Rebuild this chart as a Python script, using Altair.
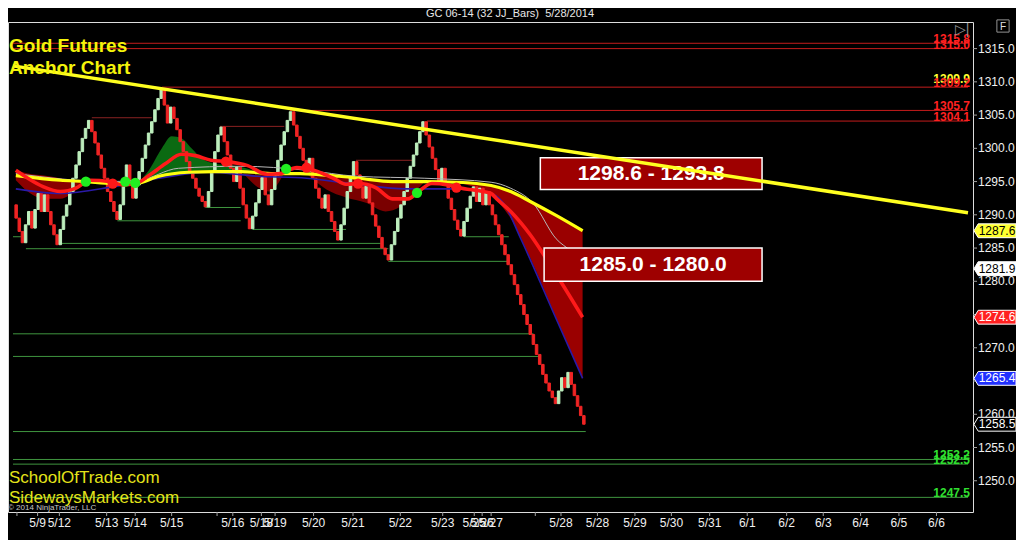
import altair as alt
import pandas as pd

# ---------------- data ----------------
# bar closes, one per bar (bar index = slot 1..181)
closes = [1289.5, 1287.5, 1285.8, 1288.5, 1290.5, 1288.0, 1290.8, 1293.2, 1290.5, 1293.0,
          1290.5, 1288.5, 1287.0, 1285.5, 1287.8, 1289.8, 1291.5, 1293.5, 1295.5, 1297.5,
          1299.5, 1301.5, 1303.0, 1304.2, 1302.5, 1300.8, 1299.0, 1297.0, 1295.5, 1293.5,
          1292.0, 1290.5, 1289.3, 1291.5, 1294.5, 1297.5, 1295.0, 1292.5, 1294.5, 1296.5,
          1298.5, 1300.5, 1302.3, 1304.0, 1305.8, 1307.5, 1308.8, 1306.5, 1303.8, 1306.2,
          1304.5, 1302.8, 1301.0, 1299.5, 1298.0, 1296.5, 1295.5, 1294.0, 1292.8, 1292.0,
          1291.2, 1293.5, 1296.5, 1299.5, 1302.0, 1303.2, 1301.0, 1299.0, 1297.0, 1295.0,
          1297.2, 1294.0, 1291.5, 1289.5, 1287.9, 1289.8, 1291.8, 1293.8, 1295.6, 1293.0,
          1291.5, 1293.8, 1296.0, 1298.2, 1300.5, 1302.5, 1304.2, 1305.5, 1303.5, 1301.8,
          1300.0, 1298.2, 1296.5, 1298.5, 1295.5, 1294.0, 1292.5, 1291.0, 1293.0, 1290.5,
          1289.0, 1287.5, 1286.2, 1288.5, 1291.0, 1293.5, 1295.8, 1298.0, 1296.0, 1294.2,
          1292.5, 1294.5, 1291.8, 1290.0, 1288.3, 1286.6, 1285.0, 1284.0, 1283.2, 1285.5,
          1287.5, 1289.5, 1291.5, 1293.5, 1295.5, 1297.3, 1299.0, 1300.8, 1302.5, 1304.0,
          1302.0, 1300.2, 1298.5, 1296.8, 1295.0, 1297.0, 1294.5, 1292.5, 1290.8, 1289.2,
          1287.8, 1286.8, 1289.0, 1291.0, 1292.8, 1294.2, 1292.0, 1294.0, 1291.5, 1293.5,
          1291.5, 1290.0, 1288.5, 1287.0, 1285.5, 1284.0, 1282.5, 1281.0, 1279.5, 1278.0,
          1276.5, 1275.0, 1273.5, 1272.0, 1270.5, 1269.0, 1267.5, 1266.0, 1264.7, 1263.5,
          1262.5, 1261.6, 1263.5, 1265.5, 1264.0, 1266.3, 1264.5, 1262.8, 1261.2, 1259.8,
          1258.5]
first_open = 1291.5

# moving averages (slot, price)
yel_x = [0.9, 15, 22.8, 31.6, 39, 46.25, 55.6, 64, 72.2, 82.8, 91, 103.4, 109.7, 120.3,
         130.6, 141, 151.6, 157.8, 164, 172.2, 180.6]
yel_y = [1295.9, 1295.2, 1295.0, 1294.7, 1294.7, 1295.8, 1296.4, 1296.5, 1296.5, 1296.2,
         1296.2, 1295.8, 1295.5, 1295.0, 1295.0, 1294.9, 1294.4, 1293.5, 1292.0, 1289.9, 1287.6]

red_x = [0.9, 4.7, 9.7, 15, 20.3, 24.4, 30.6, 34.7, 39, 43.1, 48.4, 53.4, 57.8, 62.8, 68.1,
         74.4, 80.6, 84.7, 90, 95.3, 101.6, 105.6, 109.7, 115, 120.3, 125.3, 128.1, 132.8,
         137.8, 141, 151.6, 153.4, 157.8, 164, 170.3, 180.6]
red_y = [1296.7, 1295.5, 1294.2, 1293.5, 1294.1, 1295.2, 1295.0, 1294.5, 1294.7, 1295.9,
         1297.7, 1299.1, 1298.9, 1298.2, 1298.0, 1297.4, 1296.1, 1296.2, 1297.1, 1296.7,
         1295.5, 1294.6, 1294.7, 1294.1, 1292.4, 1292.4, 1293.3, 1294.7, 1294.5, 1294.1,
         1293.2, 1292.4, 1290.5, 1287.0, 1282.5, 1274.6]

blue_x = [0.9, 15, 31.6, 46.25, 61.9, 77.5, 93.1, 108.75, 124.4, 140, 151.6, 155.6, 161,
          171.9, 180.6]
blue_y = [1293.9, 1293.2, 1294.2, 1295.5, 1296.4, 1295.8, 1295.5, 1294.6, 1293.9, 1293.9,
          1293.2, 1291.7, 1286.4, 1274.7, 1265.4]

grey_x = [0.9, 30.6, 40, 52.5, 72.2, 93.1, 108.75, 130.6, 151.6, 157.8, 165, 172.2, 176.9, 181.6]
grey_y = [1296.2, 1295.0, 1295.2, 1297.0, 1297.3, 1296.7, 1295.8, 1295.5, 1294.9, 1294.0,
          1291.7, 1286.4, 1284.5, 1281.9]

# ribbon fills: segment id, colour, slot, upper, lower
rib_seg = [1] * 7 + [2] * 10 + [3] * 4 + [4] * 8 + [5] * 6
rib_col = (["#8a0000"] * 7 + ["#0b6a12"] * 10 + ["#7a0000"] * 4 + ["#7a0000"] * 8
           + ["#9a0000"] * 6)
rib_x = [0.9, 4.7, 9.7, 15, 18.1, 21.25, 23.1,
         39.4, 43.1, 47.2, 50.3, 53.4, 56.6, 59.7, 65, 71.25, 75.9,
         73.1, 77.5, 81.25, 85.9,
         93.1, 99.4, 105.6, 111.9, 118.1, 122.8, 127.5, 130.6,
         140, 151.6, 157.8, 164, 172.2, 180.6]
rib_top = [1296.7, 1296.2, 1295.9, 1295.5, 1295.2, 1295.0, 1294.8,
           1294.7, 1296.7, 1300.0, 1301.8, 1301.5, 1300.0, 1298.5, 1297.6, 1297.3, 1296.7,
           1296.2, 1296.0, 1296.0, 1296.2,
           1296.2, 1296.0, 1295.6, 1295.3, 1295.0, 1295.0, 1295.0, 1295.0,
           1294.9, 1294.4, 1293.5, 1292.0, 1289.9, 1287.6]
rib_bot = [1295.2, 1293.5, 1292.4, 1292.4, 1293.0, 1294.2, 1294.8,
           1294.7, 1295.2, 1295.6, 1295.9, 1296.2, 1296.5, 1296.7, 1296.7, 1296.7, 1296.7,
           1296.2, 1294.2, 1293.5, 1296.2,
           1296.2, 1293.8, 1292.6, 1291.8, 1290.5, 1291.2, 1293.5, 1295.0,
           1294.9, 1292.8, 1289.5, 1283.5, 1274.5, 1265.4]

# signal dots
gdot_x = [23.1, 35.6, 38.75, 86.6, 128.1]
gdot_y = [1295.0, 1295.0, 1294.8, 1296.9, 1293.3]
rdot_x = [31.6, 67.5, 93.1, 109.4, 140.6]
rdot_y = [1294.7, 1298.0, 1297.1, 1294.7, 1294.1]

# horizontal levels
lev_price = [1315.8, 1315.0, 1309.2, 1305.7, 1304.1, 1304.6, 1303.3, 1298.2,
             1289.1, 1291.1, 1287.8, 1285.7, 1284.9, 1286.7, 1286.7, 1283.0,
             1272.1, 1268.7, 1257.4, 1253.2, 1252.5, 1247.5]
lev_start = [0, 0, 47.2, 87.8, 131.25, 25, 65.6, 108.75,
             33.1, 61, 76, 14, 4.1, 0, 143, 119, 0, 0, 0, 0, 0, 0]
lev_end = [302.8, 302.8, 302.8, 302.8, 302.8, 44, 86, 126.6,
           72.2, 72.2, 105.6, 116.6, 119, 2.5, 157.2, 157.2, 165, 167.2, 181.6,
           302.8, 302.8, 302.8]
lev_kind = ["r"] * 5 + ["d"] * 3 + ["g"] * 14

# level labels at right
lab_price = [1315.8, 1315.0, 1309.9, 1309.2, 1305.7, 1304.1, 1253.2, 1252.5, 1247.5]
lab_col = ["#ff2020", "#ff2020", "#ffff30", "#ff2020", "#ff2020", "#ff2020",
           "#30e030", "#30e030", "#30e030"]

# trend line
trend_x = [0, 302.8]
trend_y = [1312.4, 1290.3]

# target boxes
box_x1 = [167.2, 168.4]
box_x2 = [237.5, 237.5]
box_top = [1298.6, 1285.0]
box_bot = [1293.8, 1280.0]
box_lab = ["1298.6 - 1293.8", "1285.0 - 1280.0"]

# price tags on the axis
tag_price = [1287.6, 1281.9, 1274.6, 1265.4, 1258.5]
tag_fill = ["#ffff30", "#ffffff", "#ff2020", "#2030ff", "#000000"]
tag_text = ["#000000", "#000000", "#ffffff", "#ffffff", "#ffffff"]

# x-axis ticks
tick_vals = [1.25, 7.8, 14.7, 29.7, 38.75, 50.3, 64.7, 69.7, 78.75, 83.1, 95.3, 107.8,
             122.8, 136.25, 146.25, 148.75, 151.6, 165.6, 173.75, 185.3, 197.2, 208.75,
             220.9, 232.8, 245.3, 256.9, 268.75, 280.9, 292.8]
tick_labels = ["", "5/9", "5/12", "5/13", "5/14", "5/15", "", "5/16", "5/18", "5/19",
               "5/20", "5/21", "5/22", "5/23", "5/25", "5/26", "5/27", "", "5/28", "5/28",
               "5/29", "5/30", "5/31", "6/1", "6/2", "6/3", "6/4", "6/5", "6/6"]
y_ticks = [1250, 1255, 1260, 1265, 1270, 1275, 1280, 1285, 1290, 1295, 1300, 1305, 1310, 1315]

# ---------------- chart ----------------
W, H = 965, 490
FONT = "Liberation Sans"
xs = alt.Scale(domain=[0, 302.8], nice=False, zero=False)
ys = alt.Scale(domain=[1245.3, 1319.0], nice=False, zero=False)


def X(field):
    return alt.X(field, scale=xs, axis=None)


def Y(field):
    return alt.Y(field, scale=ys, axis=None)


opens = [first_open] + closes[:-1]
bars_df = pd.DataFrame({
    "slot": list(range(1, len(closes) + 1)),
    "open": opens,
    "close": closes,
})
bars_df["col"] = ["#bdeebd" if c > o else "#f02424" for o, c in zip(opens, closes)]

lev_colors = {"r": "#c41c1c", "d": "#8a2222", "g": "#3f953f"}
lev_df = pd.DataFrame({"x1": lev_start, "x2": lev_end, "p": lev_price,
                       "col": [lev_colors[k] for k in lev_kind]})

levels = alt.Chart(lev_df).mark_rule(strokeWidth=1).encode(
    x=X("x1:Q"), x2="x2:Q", y=Y("p:Q"),
    color=alt.Color("col:N", scale=None),
)

# hand-made axes (labels and ticks follow the scales)
xt_df = pd.DataFrame({"v": tick_vals, "t": tick_labels})
x_ticks = alt.Chart(xt_df).mark_rule(color="#a0a0a0", strokeWidth=1).encode(
    x=X("v:Q"), y=alt.value(H), y2=alt.value(H + 4))
x_labels = alt.Chart(xt_df).mark_text(font=FONT, fontSize=12, color="#f0f0f0",
                                      baseline="middle", align="center").encode(
    x=X("v:Q"), y=alt.value(H + 11), text="t:N")

yt_df = pd.DataFrame({"p": y_ticks, "t": [f"{v:.1f}" for v in y_ticks]})
y_tick_marks = alt.Chart(yt_df).mark_rule(color="#a0a0a0", strokeWidth=1).encode(
    y=Y("p:Q"), x=alt.value(W), x2=alt.value(W + 4))
y_labels = alt.Chart(yt_df).mark_text(font=FONT, fontSize=12, color="#f0f0f0",
                                      baseline="middle", align="left").encode(
    y=Y("p:Q"), x=alt.value(W + 5), text="t:N")

rib_df = pd.DataFrame({"seg": rib_seg, "col": rib_col, "x": rib_x, "top": rib_top, "bot": rib_bot})
ribbons = alt.Chart(rib_df).mark_area(interpolate="monotone", opacity=1).encode(
    x=X("x:Q"), y=Y("top:Q"), y2="bot:Q",
    detail="seg:N",
    color=alt.Color("col:N", scale=None),
)

bars = alt.Chart(bars_df).mark_bar(size=2.5, strokeWidth=1).encode(
    x=X("slot:Q"), y=Y("open:Q"), y2="close:Q",
    color=alt.Color("col:N", scale=None),
    stroke=alt.Stroke("col:N", scale=None),
)


def ma_line(xv, yv, color, width):
    df = pd.DataFrame({"x": xv, "y": yv})
    return alt.Chart(df).mark_line(interpolate="monotone", color=color,
                                   strokeWidth=width).encode(x=X("x:Q"), y=Y("y:Q"))


blue = ma_line(blue_x, blue_y, "#2a1aa8", 1.6)
grey = ma_line(grey_x, grey_y, "#b8b8b8", 1)
yel = ma_line(yel_x, yel_y, "#ffff10", 3.2)
red = ma_line(red_x, red_y, "#ff1a1a", 3.6)

dots_df = pd.DataFrame({"x": gdot_x + rdot_x, "y": gdot_y + rdot_y,
                        "col": ["#20ee20"] * len(gdot_x) + ["#ff1818"] * len(rdot_x)})
dots = alt.Chart(dots_df).mark_circle(size=105, opacity=1).encode(
    x=X("x:Q"), y=Y("y:Q"), color=alt.Color("col:N", scale=None))

box_df = pd.DataFrame({"x1": box_x1, "x2": box_x2, "top": box_top, "bot": box_bot, "lab": box_lab})
box_df["xm"] = (box_df["x1"] + box_df["x2"]) / 2
box_df["ym"] = (box_df["top"] + box_df["bot"]) / 2
boxes = alt.Chart(box_df).mark_rect(fill="#9e0000", stroke="#ffffff", strokeWidth=1.5).encode(
    x=X("x1:Q"), x2="x2:Q", y=Y("top:Q"), y2="bot:Q")
box_text = alt.Chart(box_df).mark_text(color="white", font=FONT, fontSize=21,
                                       fontWeight="bold", baseline="middle").encode(
    x=X("xm:Q"), y=Y("ym:Q"), text="lab:N")

trend = ma_line(trend_x, trend_y, "#ffff20", 3.5)

lab_df = pd.DataFrame({"p": lab_price, "col": lab_col,
                       "t": [f"{v:.1f}" for v in lab_price]})
lev_labels = alt.Chart(lab_df).mark_text(font=FONT, fontSize=12, fontWeight="bold",
                                         align="right", baseline="alphabetic").encode(
    x=alt.value(W - 3), y=Y("p:Q"), text="t:N",
    color=alt.Color("col:N", scale=None))

tag_df = pd.DataFrame({"p": tag_price, "fill": tag_fill, "tc": tag_text,
                       "t": [f"{v:.1f}" for v in tag_price]})
tag_shape = "M -1 0 L -0.8 -0.33 L 1 -0.33 L 1 0.33 L -0.8 0.33 Z"
tags = alt.Chart(tag_df).mark_point(shape=tag_shape, size=1764, filled=True, opacity=1,
                                    stroke="#ffffff", strokeWidth=1).encode(
    x=alt.value(W + 22), y=Y("p:Q"), fill=alt.Fill("fill:N", scale=None))
tag_txt = alt.Chart(tag_df).mark_text(font=FONT, fontSize=12, baseline="middle",
                                      align="center").encode(
    x=alt.value(W + 24), y=Y("p:Q"), text="t:N",
    color=alt.Color("tc:N", scale=None))


def label(text, x, y, color, size, weight="normal", align="left"):
    return alt.Chart(pd.DataFrame({"t": [text]})).mark_text(
        font=FONT, fontSize=size, fontWeight=weight, color=color, align=align,
        baseline="alphabetic").encode(text="t:N", x=alt.value(x), y=alt.value(y))


texts = [
    label("GC 06-14 (32 JJ_Bars)\u00a0 5/28/2014", 502, -5, "#e8e8e8", 11, align="center"),
    label("Gold Futures", 1, 30, "#f4f40a", 19, "bold"),
    label("Anchor Chart", 1, 52, "#f4f40a", 19, "bold"),
    label("SchoolOfTrade.com", 1, 461, "#e4e41a", 17),
    label("SidewaysMarkets.com", 1, 481, "#e4e41a", 17),
    label("\u00a9 2014 NinjaTrader, LLC", 0, 488, "#c8c8c8", 8),
    label("\u25b7|", 954, 12, "#909090", 14, align="center"),
    label("F", 995, 8, "#e0e0e0", 10, align="center"),
]

fbox = alt.Chart(pd.DataFrame({"t": ["F"]})).mark_point(
    shape="square", size=150, filled=False, color="#d0d0d0", strokeWidth=1).encode(
    x=alt.value(995), y=alt.value(4))

chart = alt.layer(
    levels, ribbons, bars, blue, grey, yel, red, dots, boxes, box_text, trend,
    lev_labels, x_ticks, x_labels, y_tick_marks, y_labels, tags, tag_txt, fbox, *texts,
).properties(
    width=W, height=H, autosize="none",
    padding={"left": 0, "top": 14, "right": 43, "bottom": 28},
    background="black",
).configure_view(stroke="#9a9a9a", strokeWidth=1, fill="black").configure(font=FONT)

chart.save("out.html", embed_options={"renderer": "svg", "actions": False})
